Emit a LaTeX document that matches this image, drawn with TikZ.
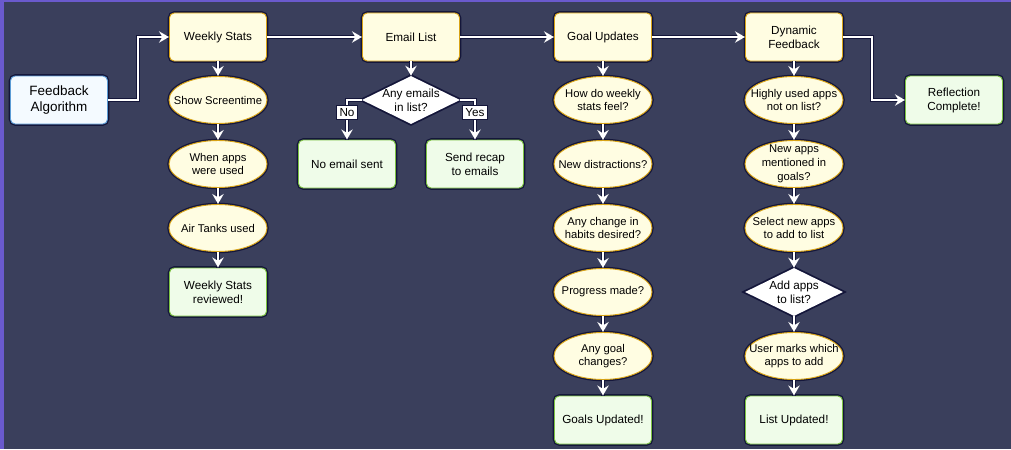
\documentclass[tikz,border=0pt]{standalone}
\usepackage{fontspec}
\setmainfont{Liberation Sans}
\usetikzlibrary{arrows.meta,shapes.geometric}

\definecolor{navybg}{HTML}{3A3F5C}
\definecolor{glow}{HTML}{14163A}
\definecolor{framepurple}{HTML}{6A5ACD}
\definecolor{phasefill}{HTML}{FFFDE2}
\definecolor{phaseline}{HTML}{D8A316}
\definecolor{donefill}{HTML}{EFFCE9}
\definecolor{doneline}{HTML}{7CC242}
\definecolor{startfill}{HTML}{F4FAFF}
\definecolor{startline}{HTML}{5B9BD5}

\begin{document}
\begin{tikzpicture}[x=0.03cm, y=-0.03cm, font=\fontsize{10}{12}\selectfont,
  phase/.style={rectangle, rounded corners=4pt, draw=phaseline, fill=phasefill, line width=0.8pt,
    preaction={draw=glow, line width=3pt}, minimum width=2.91cm, minimum height=1.44cm, align=center, inner sep=1pt},
  check/.style={ellipse, draw=phaseline, fill=phasefill, line width=0.8pt,
    preaction={draw=glow, line width=3pt}, minimum width=2.94cm, minimum height=1.41cm, align=center,
    inner xsep=-12pt, inner ysep=-3pt, font=\fontsize{9.6}{11.8}\selectfont},
  done/.style={phase, draw=doneline, fill=donefill},
  start/.style={phase, draw=startline, fill=startfill, font=\fontsize{11.5}{13.5}\selectfont},
  choice/.style={diamond, fill=white, preaction={draw=glow, line width=3pt}, minimum width=2.94cm,
    minimum height=1.44cm, inner sep=-2pt, align=center, aspect=2},
  tag/.style={fill=white, font=\fontsize{10}{11}\selectfont, inner xsep=2pt, inner ysep=2pt,
    preaction={draw=glow, line width=1.5pt}},
  flow/.style={draw=white, line width=1.8pt, -{Stealth[length=3mm, width=3.4mm, inset=1mm]},
    preaction={draw=glow, line width=3.6pt, -}}]
	\fill[navybg] (0,0) rectangle (1011,449);
	\useasboundingbox (0,0) rectangle (1011,449);
	\fill[framepurple] (0,0) rectangle (4,449);
	\fill[framepurple] (0,0) rectangle (1011,2);

	% column heads
	\node[start] (fa) at (59,100) {Feedback\\Algorithm};
	\node[phase] (ws) at (218,37) {Weekly Stats};
	\node[phase] (el) at (411,37) {Email List};
	\node[phase] (gu) at (603,37) {Goal Updates};
	\node[phase] (df) at (794,37) {Dynamic\\Feedback};
	\node[done] (rc) at (954,100) {Reflection\\Complete!};

	% weekly stats
	\node[check] (ss) at (218,100) {Show Screentime};
	\node[check] (wu) at (218,164) {When apps\\were used};
	\node[check] (at) at (218,228) {Air Tanks used};
	\node[done] (wr) at (218,292) {Weekly Stats\\reviewed!};

	% email list
	\node[choice] (ae) at (411,100) {Any emails\\in list?};
	\node[done] (ne) at (347,164) {No email sent};
	\node[done] (sr) at (475,164) {Send recap\\to emails};

	% goal updates
	\node[check] (hw) at (603,100) {How do weekly\\stats feel?};
	\node[check] (nd) at (603,164) {New distractions?};
	\node[check] (ac) at (603,228) {Any change in\\habits desired?};
	\node[check] (pm) at (603,292) {Progress made?};
	\node[check] (ag) at (603,356) {Any goal\\changes?};
	\node[done] (gd) at (603,420) {Goals Updated!};

	% dynamic feedback
	\node[check] (hu) at (794,100) {Highly used apps\\not on list?};
	\node[check] (na) at (794,164) {New apps\\mentioned in\\goals?};
	\node[check] (sn) at (794,228) {Select new apps\\to add to list};
	\node[choice] (aa) at (794,292) {Add apps\\to list?};
	\node[check] (um) at (794,356) {User marks which\\apps to add};
	\node[done] (lu) at (794,420) {List Updated!};

	% connectors
	\draw[flow] (fa.east) -- ++(30,0) |- (ws);
	\draw[flow] (ws) -- (el);
	\draw[flow] (el) -- (gu);
	\draw[flow] (gu) -- (df);
	\draw[flow] (df.east) -- ++(29,0) |- (rc);
	\foreach \a/\b in {ws/ss, ss/wu, wu/at, at/wr, el/ae, gu/hw, hw/nd, nd/ac, ac/pm, pm/ag, ag/gd,
	                   df/hu, hu/na, na/sn, sn/aa, aa/um, um/lu}
		\draw[flow] (\a) -- (\b);
	\draw[flow] (ae.west) -| node[tag, pos=0.66] (no) {No} (ne);
	\draw[flow] (ae.east) -| node[tag, pos=0.66] (yes) {Yes} (sr);
\end{tikzpicture}
\end{document}
